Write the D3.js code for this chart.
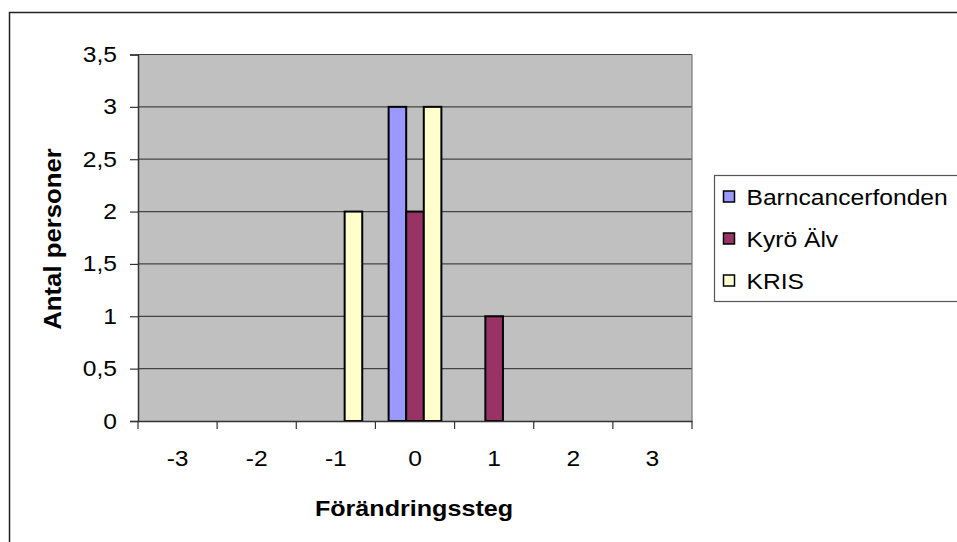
<!DOCTYPE html>
<html><head><meta charset="utf-8">
<script src="https://cdn.jsdelivr.net/npm/d3@7"></script>
<style>body{margin:0;background:#fff;}svg{display:block;}text{font-family:"Liberation Sans",Arial,sans-serif;fill:#000;}</style>
</head><body>
<svg id="c" width="957" height="542"></svg>
<script>
const categories = ["-3","-2","-1","0","1","2","3"];
const seriesNames = ["Barncancerfonden","Kyrö Älv","KRIS"];
const barncancerfonden = [0,0,0,3,0,0,0];
const kyroAlv = [0,0,0,2,1,0,0];
const kris = [0,0,2,3,0,0,0];
const yTickValues = [0,0.5,1,1.5,2,2.5,3,3.5];
const colors = ["#9999FF","#993366","#FFFFCC"];
const xTitle = "Förändringssteg";
const yTitle = "Antal personer";

const seriesValues = [barncancerfonden, kyroAlv, kris];
const SX = 1.12;
const svg = d3.select("#c");
const L=138, R=692, T=54.5, B=421;

svg.append("rect").attr("x",9.5).attr("y",12.5).attr("width",1200).attr("height",800)
  .attr("fill","#fff").attr("stroke","#222").attr("stroke-width",1.5);

const x = d3.scaleBand().domain(categories).range([L,R]).paddingInner(0).paddingOuter(0);
const xs = d3.scaleBand().domain(seriesNames).range([0,x.bandwidth()]).paddingInner(0).paddingOuter(0.75);
const y = d3.scaleLinear().domain([0,3.5]).range([B,T]);

svg.append("rect").attr("x",L).attr("y",T).attr("width",R-L).attr("height",B-T).attr("fill","#C0C0C0");

svg.append("g").selectAll("line").data(yTickValues.filter(v=>v>0)).join("line")
  .attr("x1",L).attr("x2",R).attr("y1",d=>y(d)).attr("y2",d=>y(d))
  .attr("stroke","#444").attr("stroke-width",1.2);
svg.append("line").attr("x1",R).attr("x2",R).attr("y1",T).attr("y2",B).attr("stroke","#777").attr("stroke-width",1.2);

const data = [];
seriesNames.forEach((s,i)=>categories.forEach((c,j)=>{ if(seriesValues[i][j]>0) data.push({s,c,v:seriesValues[i][j],i}); }));
svg.append("g").selectAll("rect").data(data).join("rect")
  .attr("x",d=>x(d.c)+xs(d.s)).attr("width",xs.bandwidth())
  .attr("y",d=>y(d.v)).attr("height",d=>B-y(d.v))
  .attr("fill",d=>colors[d.i]).attr("stroke","#000").attr("stroke-width",2);

const yAxis = svg.append("g").attr("transform",`translate(${L},0)`)
  .call(d3.axisLeft(y).tickValues(yTickValues).tickSize(8).tickPadding(13).tickFormat(d=>String(d).replace(".",",")));
const xAxis = svg.append("g").attr("transform",`translate(0,${B})`)
  .call(d3.axisBottom(x).tickSize(0).tickPadding(29));
svg.append("g").selectAll("line").data(categories.concat(["end"])).join("line")
  .attr("x1",(d,k)=>k<categories.length?x(d):R).attr("x2",(d,k)=>k<categories.length?x(d):R)
  .attr("y1",B).attr("y2",B+8).attr("stroke","#333").attr("stroke-width",1.2);
[yAxis,xAxis].forEach(g=>{
  g.select(".domain").attr("stroke","#333").attr("stroke-width",1.5);
  g.selectAll(".tick line").attr("stroke","#333").attr("stroke-width",1.2);
  g.selectAll("text").attr("font-size",22).attr("font-family","Liberation Sans, Arial, sans-serif");
});
yAxis.selectAll("text").each(function(){const t=d3.select(this);const xx=+t.attr("x");t.attr("x",xx/SX).attr("transform",`scale(${SX},1)`);});
xAxis.selectAll("text").attr("transform",`scale(${SX},1)`);

svg.append("text").attr("transform",`translate(414,516) scale(${SX*1.02},1)`).attr("text-anchor","middle")
  .attr("font-size",22).attr("font-weight","bold").text(xTitle);
svg.append("text").attr("transform",`translate(61,239) rotate(-90) scale(1.17,1.05)`).attr("text-anchor","middle")
  .attr("font-size",22).attr("font-weight","bold").text(yTitle);

const lg = svg.append("g");
lg.append("rect").attr("x",714.5).attr("y",175.5).attr("width",400).attr("height",126)
  .attr("fill","#fff").attr("stroke","#555").attr("stroke-width",1.2);
seriesNames.forEach((s,i)=>{
  const cy = 196.5 + i*42;
  lg.append("rect").attr("x",723.5).attr("y",cy-5.5).attr("width",11).attr("height",11)
    .attr("fill",colors[i]).attr("stroke","#000").attr("stroke-width",1.5);
  lg.append("text").attr("transform",`translate(746.5,${cy+8}) scale(${SX},1)`).attr("font-size",22).text(s);
});
</script>
</body></html>
